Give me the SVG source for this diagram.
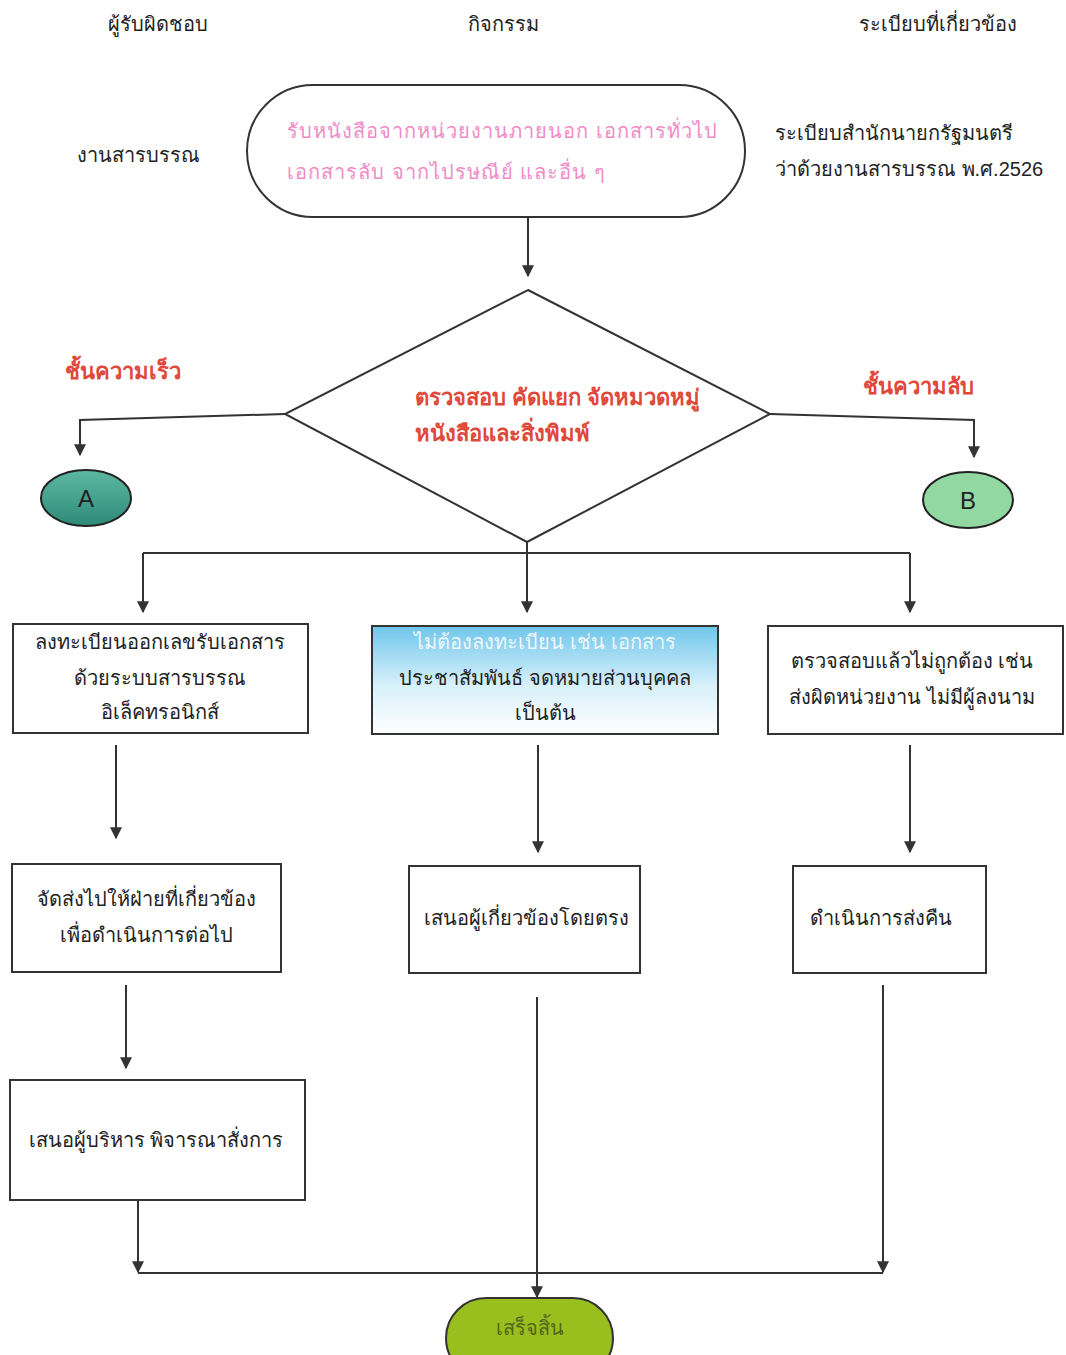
<svg xmlns="http://www.w3.org/2000/svg" width="1066" height="1355" viewBox="0 0 1066 1355">
<defs>
<style>
text{font-family:"Liberation Sans","Noto Sans","DejaVu Sans",sans-serif;font-size:20px;fill:#222;}
.c{text-anchor:middle;}
.pink{fill:#f28ac8;letter-spacing:1px;}
.red{fill:#e0483a;font-weight:bold;font-size:22px;}
.box{fill:#fff;stroke:#333;stroke-width:2;}
.ln{fill:none;stroke:#333;stroke-width:2;}
.ar{fill:none;stroke:#333;stroke-width:2;marker-end:url(#ah);}
</style>
<marker id="ah" viewBox="0 0 10 10" refX="9" refY="5" markerWidth="6" markerHeight="6" orient="auto" markerUnits="strokeWidth">
<path d="M0,0 L10,5 L0,10 z" fill="#333"/>
</marker>
<linearGradient id="blue" x1="0" y1="0" x2="0" y2="1">
<stop offset="0" stop-color="#6fc6ec"/>
<stop offset="0.55" stop-color="#d8f0fa"/>
<stop offset="1" stop-color="#ffffff"/>
</linearGradient>
<linearGradient id="teal" x1="0" y1="0" x2="0" y2="1">
<stop offset="0" stop-color="#5cb8a2"/>
<stop offset="1" stop-color="#2f8a78"/>
</linearGradient>
</defs>
<rect width="1066" height="1355" fill="#fff"/>

<g id="headers">
<text class="c" x="158" y="31">ผู้รับผิดชอบ</text>
<text class="c" x="503" y="31">กิจกรรม</text>
<text class="c" x="938" y="31">ระเบียบที่เกี่ยวข้อง</text>
<text class="c" x="138" y="162">งานสารบรรณ</text>
<text x="775" y="140">ระเบียบสำนักนายกรัฐมนตรี</text>
<text x="775" y="176">ว่าด้วยงานสารบรรณ  พ.ศ.2526</text>
</g>

<g id="connectors">
<line class="ar" x1="528" y1="217" x2="528" y2="276"/>
<polyline class="ar" points="285,414 80,420 80,455"/>
<polyline class="ar" points="770,414 974,420 974,457"/>
<line class="ar" x1="527" y1="542" x2="527" y2="612"/>
<polyline class="ln" points="143,553 910,553"/>
<line class="ar" x1="143" y1="553" x2="143" y2="612"/>
<line class="ar" x1="910" y1="553" x2="910" y2="612"/>
<line class="ar" x1="116" y1="745" x2="116" y2="838"/>
<line class="ar" x1="538" y1="745" x2="538" y2="852"/>
<line class="ar" x1="910" y1="745" x2="910" y2="852"/>
<line class="ar" x1="126" y1="985" x2="126" y2="1068"/>
<line class="ar" x1="138" y1="1201" x2="138" y2="1272"/>
<line class="ln" x1="138" y1="1273" x2="883" y2="1273"/>
<line class="ar" x1="883" y1="985" x2="883" y2="1272"/>
<line class="ar" x1="537" y1="997" x2="537" y2="1297"/>
</g>

<g id="start">
<rect x="247" y="85" width="498" height="132" rx="66" ry="66" class="box"/>
<text class="pink" x="287" y="138">รับหนังสือจากหน่วยงานภายนอก  เอกสารทั่วไป</text>
<text class="pink" x="287" y="179">เอกสารลับ  จากไปรษณีย์  และอื่น  ๆ</text>
</g>

<g id="decision">
<polygon points="528,290 770,414 527,542 285,414" class="box"/>
<text class="red" x="415" y="405">ตรวจสอบ  คัดแยก  จัดหมวดหมู่</text>
<text class="red" x="415" y="441">หนังสือและสิ่งพิมพ์</text>
</g>

<g id="label-left"><text class="red" x="65" y="379">ชั้นความเร็ว</text></g>
<g id="label-right"><text class="red" x="863" y="394">ชั้นความลับ</text></g>

<g id="nodeA">
<ellipse cx="86" cy="498" rx="45" ry="28" fill="url(#teal)" stroke="#222" stroke-width="2"/>
<text class="c" x="86" y="507" style="font-size:24px">A</text>
</g>
<g id="nodeB">
<ellipse cx="968" cy="500" rx="45" ry="28" fill="#92d8a2" stroke="#222" stroke-width="2"/>
<text class="c" x="968" y="509" style="font-size:24px">B</text>
</g>

<g id="box1">
<rect x="13" y="624" width="295" height="109" class="box"/>
<text class="c" x="160" y="649">ลงทะเบียนออกเลขรับเอกสาร</text>
<text class="c" x="160" y="685">ด้วยระบบสารบรรณ</text>
<text class="c" x="160" y="719">อิเล็คทรอนิกส์</text>
</g>

<g id="box2">
<rect x="372" y="626" width="346" height="108" fill="url(#blue)" stroke="#333" stroke-width="2"/>
<text class="c" x="545" y="649" style="fill:#eef7fb">ไม่ต้องลงทะเบียน  เช่น  เอกสาร</text>
<text class="c" x="545" y="685">ประชาสัมพันธ์  จดหมายส่วนบุคคล</text>
<text class="c" x="545" y="720">เป็นต้น</text>
</g>

<g id="box3">
<rect x="768" y="626" width="295" height="108" class="box"/>
<text class="c" x="912" y="668">ตรวจสอบแล้วไม่ถูกต้อง  เช่น</text>
<text class="c" x="912" y="704">ส่งผิดหน่วยงาน  ไม่มีผู้ลงนาม</text>
</g>

<g id="box4">
<rect x="12" y="864" width="269" height="108" class="box"/>
<text class="c" x="146" y="906">จัดส่งไปให้ฝ่ายที่เกี่ยวข้อง</text>
<text class="c" x="146" y="942">เพื่อดำเนินการต่อไป</text>
</g>

<g id="box5">
<rect x="409" y="866" width="231" height="107" class="box"/>
<text class="c" x="526" y="925">เสนอผู้เกี่ยวข้องโดยตรง</text>
</g>

<g id="box6">
<rect x="793" y="866" width="193" height="107" class="box"/>
<text class="c" x="881" y="925">ดำเนินการส่งคืน</text>
</g>

<g id="box7">
<rect x="10" y="1080" width="295" height="120" class="box"/>
<text class="c" x="156" y="1147">เสนอผู้บริหาร  พิจารณาสั่งการ</text>
</g>

<g id="end">
<rect x="446" y="1298" width="167" height="80" rx="40" ry="40" fill="#98bf1e" stroke="#333" stroke-width="2"/>
<text class="c" x="530" y="1335" style="fill:#55651a">เสร็จสิ้น</text>
</g>
</svg>
